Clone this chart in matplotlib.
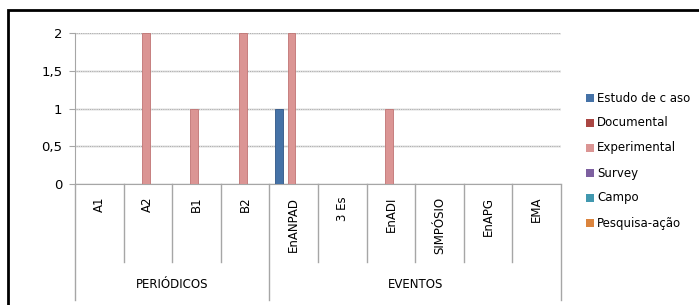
import matplotlib
matplotlib.use("Agg")
import matplotlib.pyplot as plt
from matplotlib.patches import Rectangle
from matplotlib.lines import Line2D
import matplotlib.transforms as mtransforms

categories = ["A1", "A2", "B1", "B2", "EnANPAD", "3 Es", "EnADI", "SIMPÓSIO", "EnAPG", "EMA"]
groups = ["PERIÓDICOS", "EVENTOS"]
group_sizes = [4, 6]
series_names = ["Estudo de c aso", "Documental", "Experimental", "Survey", "Campo", "Pesquisa-ação"]
estudo_de_caso = [0, 0, 0, 0, 1, 0, 0, 0, 0, 0]
documental = [0, 0, 0, 0, 0, 0, 0, 0, 0, 0]
experimental = [0, 2, 1, 2, 2, 0, 1, 0, 0, 0]
survey = [0, 0, 0, 0, 0, 0, 0, 0, 0, 0]
campo = [0, 0, 0, 0, 0, 0, 0, 0, 0, 0]
pesquisa_acao = [0, 0, 0, 0, 0, 0, 0, 0, 0, 0]
series_values = [estudo_de_caso, documental, experimental, survey, campo, pesquisa_acao]
colors = ["#4572A7", "#AA4643", "#DB9594", "#7D60A0", "#4198AF", "#DB843D"]
edge_colors = ["#2f5585", "#843330", "#c07473", "#5e4680", "#2d7a8e", "#b8682a"]
yticks = [0, 0.5, 1, 1.5, 2]
ytick_labels = ["0", "0,5", "1", "1,5", "2"]

W, H = 699, 305
fig = plt.figure(figsize=(W / 100, H / 100), dpi=100)
plt.rcParams['font.family'] = ['DejaVu Sans']

# outer frame
fig.patches.append(Rectangle((8 / W, -0.1), 1.2, (H - 10) / H + 0.1, transform=fig.transFigure,
                             fill=False, edgecolor="black", linewidth=2.0))

x0, x1 = 75, 561
ytop, ybot = 33, 184
ax = fig.add_axes([x0 / W, 1 - ybot / H, (x1 - x0) / W, (ybot - ytop) / H])
ax.set_xlim(0, len(categories))
ax.set_ylim(0, 2)

for y in yticks:
    ax.axhline(y, color="#b0b0b0", linewidth=1.0, zorder=1)
    ax.axhline(y, color="#e0e0e0", linewidth=0.8, zorder=1, linestyle=(0, (1, 1)))

step = 0.129
width = 0.16
for s, vals in enumerate(series_values):
    xs = [i + 0.5 + (s - 2.5) * step + 0.02 for i in range(len(categories))]
    ax.bar(xs, vals, width=width, color=colors[s], edgecolor=edge_colors[s], linewidth=0.6,
           zorder=3, label=series_names[s])

for sp in ["top", "right"]:
    ax.spines[sp].set_visible(False)
ax.spines["left"].set_color("#a6a6a6")
ax.spines["bottom"].set_color("#a6a6a6")
ax.set_yticks(yticks)
ax.set_yticklabels(ytick_labels, fontsize=9.5)
ax.tick_params(axis="y", length=4, color="#a6a6a6", pad=5)
ax.set_xticks([i + 0.5 for i in range(len(categories))])
ax.set_xticklabels(categories, rotation=90, fontsize=8.5, va="top")
ax.tick_params(axis="x", length=0, pad=9)

trans = mtransforms.blended_transform_factory(ax.transData, ax.transAxes)
axh = ybot - ytop
div_bot = -(262 - ybot) / axh
grp_bot = -(300 - ybot) / axh
grp_lab = -(284 - ybot) / axh
boundaries = [0]
for g in group_sizes:
    boundaries.append(boundaries[-1] + g)
for i in range(len(categories) + 1):
    bottom = grp_bot if i in boundaries else div_bot
    ax.add_line(Line2D([i, i], [0, bottom], transform=trans, color="#a6a6a6", linewidth=1.0, clip_on=False))
for gi, name in enumerate(groups):
    cx = (boundaries[gi] + boundaries[gi + 1]) / 2
    ax.text(cx, grp_lab, name, transform=trans, ha="center", va="center", fontsize=8.5)

# legend
for s, name in enumerate(series_names):
    yy = 98 + 25 * s
    fig.patches.append(Rectangle((586 / W, 1 - (yy + 4) / H), 8 / W, 8 / H, transform=fig.transFigure,
                                 facecolor=colors[s], edgecolor="none"))
    fig.text(597 / W, 1 - yy / H, name, fontsize=8.5, va="center", ha="left")

fig.savefig("out.png", dpi=100)
